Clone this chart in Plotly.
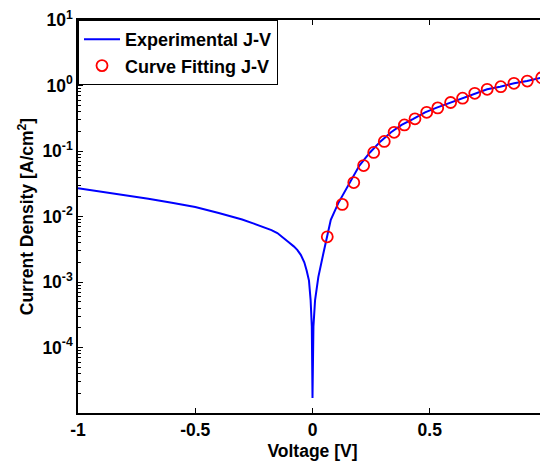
import plotly.graph_objects as go

# Experimental J-V
exp_v = [-1.0, -0.9, -0.8, -0.7, -0.6, -0.5, -0.4, -0.3, -0.25, -0.2, -0.175, -0.15, -0.125, -0.1,
         -0.08, -0.065, -0.05, -0.035, -0.025, -0.015, -0.008, -0.003, 0.0, 0.004, 0.011,
         0.025, 0.046, 0.067, 0.078, 0.11, 0.16, 0.20, 0.245, 0.29, 0.335, 0.38,
         0.43, 0.48, 0.53, 0.59, 0.64, 0.69, 0.745, 0.80, 0.86, 0.915, 1.0]
exp_j = [0.0269, 0.0240, 0.0214, 0.0187, 0.0162, 0.0140, 0.0113, 0.0090, 0.0078, 0.0068, 0.0062,
         0.0056, 0.0048, 0.0040, 0.0035, 0.0031, 0.0026, 0.0020, 0.0015, 0.00105, 5.3e-4, 2.1e-4,
         1.7e-5, 2.1e-4, 5.3e-4, 1.2e-3, 2.7e-3, 5.5e-3, 8.9e-3, 0.0160, 0.034, 0.060, 0.095,
         0.14, 0.193, 0.25, 0.31, 0.39, 0.46, 0.55, 0.64, 0.76, 0.875, 0.96, 1.08, 1.17, 1.38]

# Curve fitting J-V
fit_v = [0.063, 0.127, 0.176, 0.218, 0.261, 0.306, 0.348, 0.392, 0.437, 0.487, 0.534,
         0.589, 0.640, 0.692, 0.745, 0.803, 0.859, 0.916, 0.977]
fit_j = [0.0049, 0.0153, 0.033, 0.060, 0.095, 0.14, 0.193, 0.25, 0.31, 0.39, 0.455,
         0.55, 0.64, 0.76, 0.875, 0.96, 1.08, 1.17, 1.31]

x_ticks = [-1, -0.5, 0, 0.5, 1]
x_ticktext = ["-1", "-0.5", "0", "0.5", "1"]
y_ticks = [1e1, 1e0, 1e-1, 1e-2, 1e-3, 1e-4]
y_ticktext = ["10<sup>1</sup>", "10<sup>0</sup>", "10<sup>-1</sup>", "10<sup>-2</sup>",
              "10<sup>-3</sup>", "10<sup>-4</sup>"]
y_minor = [m * 10.0 ** e for e in range(-5, 1) for m in range(2, 10)]

FAM = "Liberation Sans, Arial"
font = dict(family=FAM, size=17.5, color="black", weight="bold")

fig = go.Figure()
fig.add_trace(go.Scatter(x=exp_v, y=exp_j, mode="lines", name="Experimental J-V",
                         line=dict(color="#0000ff", width=2)))
fig.add_trace(go.Scatter(x=fit_v, y=fit_j, mode="markers", name="Curve Fitting J-V",
                         marker=dict(symbol="circle-open", size=11, color="#ff0000",
                                     line=dict(width=1.8, color="#ff0000"))))

# page body has an 8px default margin, so the figure is 8px smaller
fig.update_layout(
    width=540, height=454,
    margin=dict(l=70, r=1, t=12, b=49, autoexpand=False),
    paper_bgcolor="white", plot_bgcolor="white",
    font=font,
    showlegend=True,
    legend=dict(x=0, y=1, xanchor="left", yanchor="top", bgcolor="white",
                bordercolor="black", borderwidth=1,
                font=dict(family=FAM, size=18, color="black", weight="bold"),
                tracegroupgap=0, itemwidth=36),
)
fig.update_xaxes(range=[-1, 1], tickvals=x_ticks, ticktext=x_ticktext, automargin=False,
                 ticks="inside", ticklen=5, tickwidth=1, tickcolor="black",
                 tickfont=font, ticklabeloverflow="allow",
                 showline=True, linecolor="black", linewidth=1.5, mirror="ticks",
                 showgrid=False, zeroline=False,
                 title=dict(text="Voltage [V]", font=font, standoff=6))
fig.update_yaxes(type="log", range=[-5, 1], tickvals=y_ticks, ticktext=y_ticktext, automargin=False,
                 ticks="inside", ticklen=5, tickwidth=1, tickcolor="black",
                 tickfont=font, ticklabeloverflow="allow",
                 minor=dict(tickvals=y_minor, ticks="inside", ticklen=3, tickcolor="black",
                            showgrid=False),
                 showline=True, linecolor="black", linewidth=1.5, mirror="ticks",
                 showgrid=False, zeroline=False,
                 title=dict(text="Current Density [A/cm<sup>2</sup>]", font=font, standoff=4))

fig.write_html("out.html")
